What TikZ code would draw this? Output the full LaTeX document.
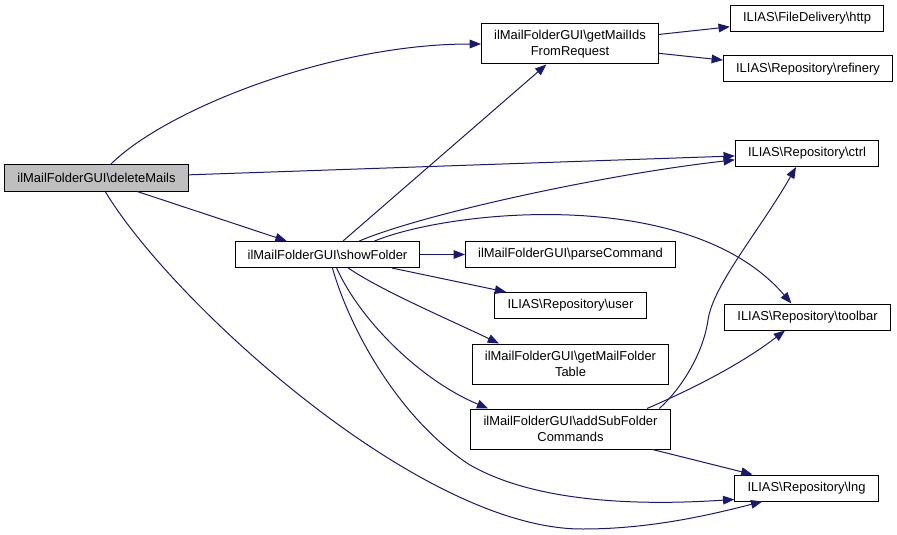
\documentclass[tikz,border=0pt]{standalone}
\usepackage{fontspec}
\setmainfont{Liberation Sans}
\usetikzlibrary{arrows.meta}
\definecolor{callblue}{HTML}{191970}
\definecolor{rootgrey}{HTML}{BFBFBF}
\newcommand{\bs}{\textbackslash{}}

\begin{document}
\begin{tikzpicture}[x=0.75pt,y=0.75pt,yscale=-1,xscale=1,
  box/.style={draw=black,line width=0.75pt,fill=white,inner xsep=9.5pt,inner ysep=2pt,minimum height=19.5pt,align=center,font=\fontsize{9.7}{11.8}\selectfont},
  tallbox/.style={box,minimum height=30pt},
  call/.style={draw=callblue,line width=0.75pt,-{Triangle[length=8.5pt,width=6.5pt]}}]
\path[use as bounding box] (0,0) rectangle (897,535);

% Text Node
\node[box,fill=rootgrey] (dm) at (96.5,178) {ilMailFolderGUI\bs deleteMails};
% Text Node
\node[box] (sf) at (327.5,254.5) {ilMailFolderGUI\bs showFolder};
% Text Node
\node[tallbox] (gm) at (570,44) {ilMailFolderGUI\bs getMailIds\\FromRequest};
% Text Node
\node[box] (http) at (807,18.5) {ILIAS\bs FileDelivery\bs http};
% Text Node
\node[box] (ref) at (808,69) {ILIAS\bs Repository\bs refinery};
% Text Node
\node[box] (ctrl) at (807,153.5) {ILIAS\bs Repository\bs ctrl};
% Text Node
\node[box] (pc) at (570.5,254.5) {ilMailFolderGUI\bs parseCommand};
% Text Node
\node[box] (user) at (570.5,305.5) {ILIAS\bs Repository\bs user};
% Text Node
\node[tallbox] (gmft) at (570.5,364) {ilMailFolderGUI\bs getMailFolder\\Table};
% Text Node
\node[tallbox] (asfc) at (570.5,429) {ilMailFolderGUI\bs addSubFolder\\Commands};
% Text Node
\node[box] (tb) at (807.5,317) {ILIAS\bs Repository\bs toolbar};
% Text Node
\node[box] (lng) at (806.5,488) {ILIAS\bs Repository\bs lng};

%Straight Lines
\draw[call] (dm) -- (ctrl);
\draw[call] (dm) -- (sf);
\draw[call] (sf) -- (gm);
\draw[call] (sf) -- (pc);
\draw[call] (sf) -- (user);
\draw[call] (gm) -- (http);
\draw[call] (gm) -- (ref);
\draw[call] (asfc) -- (lng);

%Curve Lines
\draw[call] (dm.44) .. controls (165,110) and (330,44) .. (gm.west);
\draw[call] (dm.-57) .. controls (170,300) and (420,530) .. (583,529) .. controls (650,529) and (710,515) .. (lng.197);
\draw[call] (sf.23) .. controls (420,215) and (600,175) .. (ctrl.185);
\draw[call] (sf.16) .. controls (450,210) and (690,185) .. (tb.140);
\draw[call] (sf.-33) .. controls (380,290) and (450,320) .. (gmft.164);
\draw[call] (sf.-56) .. controls (360,320) and (420,380) .. (asfc.166);
\draw[call] (sf.-70) .. controls (350,330) and (400,420) .. (470,465) .. controls (540,505) and (650,505) .. (lng.189);
\draw[call] (asfc.13) .. controls (680,390) and (703,355) .. (708,320) .. controls (713,285) and (760,230) .. (ctrl.231);
\draw[call] (asfc.15) .. controls (690,390) and (740,365) .. (tb.211);

\end{tikzpicture}
\end{document}
